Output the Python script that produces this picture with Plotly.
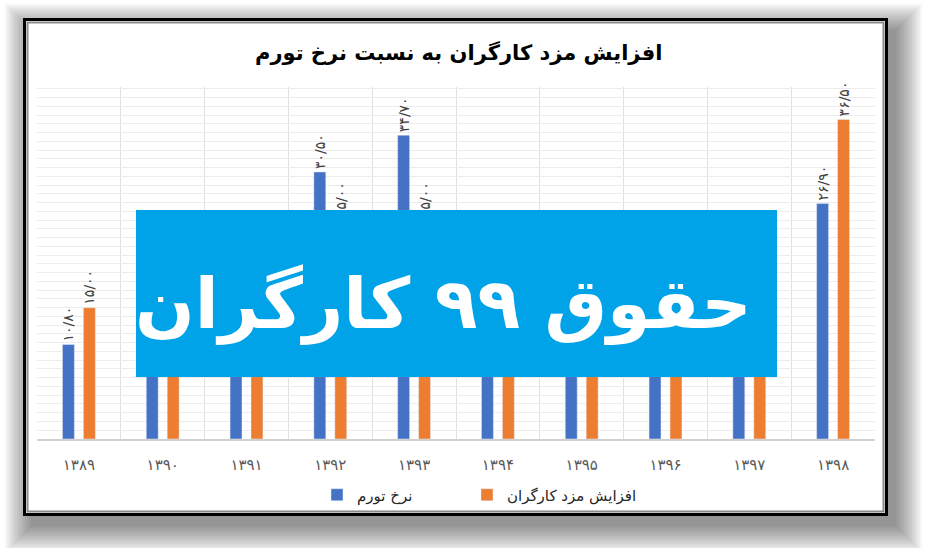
import plotly.graph_objects as go

# ---- data ----
years = ["۱۳۸۹", "۱۳۹۰", "۱۳۹۱", "۱۳۹۲", "۱۳۹۳", "۱۳۹۴", "۱۳۹۵", "۱۳۹۶", "۱۳۹۷", "۱۳۹۸"]
inflation = [10.8, 12.4, 21.5, 30.5, 34.7, 15.6, 11.9, 9.0, 9.6, 26.9]
wage_increase = [15.0, 9.0, 18.0, 25.0, 25.0, 17.0, 14.0, 14.5, 19.5, 36.5]
series_names = ["نرخ تورم", "افزایش مزد کارگران"]
title_text = "افزایش مزد کارگران به نسبت نرخ تورم"
banner_text = "حقوق ۹۹ کارگران"

FA_DIGITS = str.maketrans("0123456789", "۰۱۲۳۴۵۶۷۸۹")


def fa(v):
    return f"{v:.2f}".replace(".", "/").translate(FA_DIGITS)


# ---- layout geometry (pixels) ----
W, H = 926, 548
L, R, T, B = 37, 875, 87, 439


def px(x):
    return (x - L) / (R - L)


def py(y):
    return (B - y) / (B - T)


FONT = "DejaVu Sans"

fig = go.Figure()
fig.add_trace(go.Bar(
    x=years, y=inflation, name=series_names[0],
    marker_color="#4472C4", legend="legend",
    text=[fa(v) for v in inflation], textposition="outside", textangle=-90,
    textfont=dict(family=FONT, size=14, color="#404040"),
    cliponaxis=False, constraintext="none",
))
fig.add_trace(go.Bar(
    x=years, y=wage_increase, name=series_names[1],
    marker_color="#ED7D31", legend="legend2",
    text=[fa(v) for v in wage_increase], textposition="outside", textangle=-90,
    textfont=dict(family=FONT, size=14, color="#404040"),
    cliponaxis=False, constraintext="none",
))

shapes = []
# drop shadow of the framed picture
for i in range(14):
    e = 2 * i
    shapes.append(dict(
        type="rect", xref="paper", yref="paper", layer="below",
        x0=px(23 + 8 - e), x1=px(888 + 8 + e), y0=py(18 + 12 - e), y1=py(514 + 12 + e),
        fillcolor="rgba(0,0,0,0.035)", line=dict(width=0),
    ))
# frame
shapes.append(dict(
    type="rect", xref="paper", yref="paper", layer="below",
    x0=px(24.5), x1=px(886.5), y0=py(19.5), y1=py(514.5),
    fillcolor="white", line=dict(color="#000000", width=3),
))
shapes.append(dict(
    type="rect", xref="paper", yref="paper", layer="below",
    x0=px(27.5), x1=px(883.5), y0=py(22.5), y1=py(511.5),
    fillcolor="white", line=dict(color="#8a8a8a", width=2),
))
# banner
shapes.append(dict(
    type="rect", xref="paper", yref="paper", layer="above",
    x0=px(136), x1=px(777), y0=py(210), y1=py(377),
    fillcolor="#00A2E8", line=dict(width=0),
))

annotations = [
    dict(text=title_text, xref="paper", yref="paper", x=px(458), y=py(52),
         xanchor="center", yanchor="middle", showarrow=False,
         font=dict(family=FONT, size=21, color="#000000", weight="bold")),
    dict(text=banner_text, xref="paper", yref="paper", x=px(443), y=py(304),
         xanchor="center", yanchor="middle", showarrow=False,
         font=dict(family=FONT, size=70, color="#ffffff", weight="bold")),
]

legend_common = dict(orientation="h", yanchor="middle", xanchor="left",
                     font=dict(family=FONT, size=15, color="#262626"),
                     bgcolor="rgba(0,0,0,0)")

fig.update_layout(
    width=W, height=H,
    margin=dict(l=L, r=W - R, t=T, b=H - B),
    paper_bgcolor="#ffffff", plot_bgcolor="rgba(0,0,0,0)",
    barmode="group", bargap=0.5, bargroupgap=0.43,
    showlegend=True,
    legend=dict(x=px(317), y=py(495), **legend_common),
    legend2=dict(x=px(467), y=py(495), **legend_common),
    shapes=shapes, annotations=annotations,
    font=dict(family=FONT),
)
fig.update_xaxes(
    type="category", tickson="boundaries", showgrid=True, gridcolor="#e0e0e0", gridwidth=1,
    ticks="", showline=True, linecolor="#d0d0d0", linewidth=1.5,
    tickfont=dict(family=FONT, size=15, color="#595959"), ticklabelstandoff=11,
)
fig.update_yaxes(
    range=[0, 40.2], dtick=1, showgrid=True, gridcolor="#ececec", gridwidth=1,
    showticklabels=False, zeroline=False, showline=False,
)

fig.write_html("out.html", config={"displayModeBar": False},
               post_script="document.body.style.margin='0';")
